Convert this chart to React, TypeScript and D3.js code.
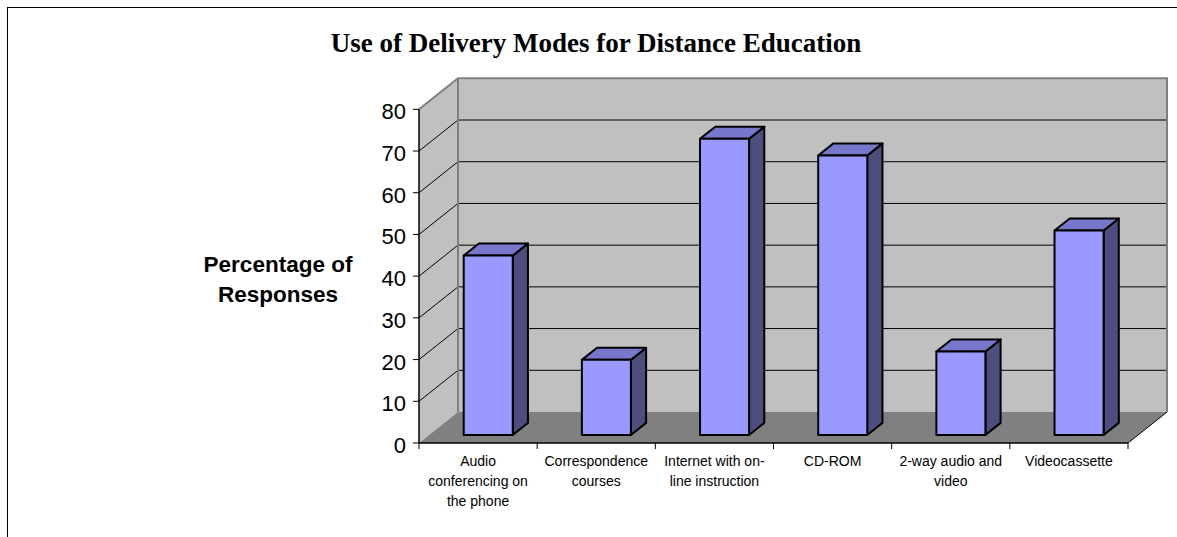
import React from "react";
import * as d3 from "d3";

// Survey results: share of respondents using each delivery mode
const categories = [
  "Audio conferencing on the phone",
  "Correspondence courses",
  "Internet with on-line instruction",
  "CD-ROM",
  "2-way audio and video",
  "Videocassette",
];
const categoryLines = [
  ["Audio", "conferencing on", "the phone"],
  ["Correspondence", "courses"],
  ["Internet with on-", "line instruction"],
  ["CD-ROM"],
  ["2-way audio and", "video"],
  ["Videocassette"],
];
const percentages = [43, 18, 71, 67, 20, 49];
const yTicks = [0, 10, 20, 30, 40, 50, 60, 70, 80];

const W = 1177;
const H = 537;

// front plane of the plot box
const X0 = 419;
const X1 = 1128;
const Y0 = 443;
const Y80 = 109.3;
// oblique depth offset of the back wall
const DEPTH_DX = 39;
const DEPTH_DY = -31;

const BAR_FRONT = 0.26;
const BAR_BACK = 0.65;

const FONT = "Arial, 'Liberation Sans', Helvetica, sans-serif";

export default function App() {
  const y = d3.scaleLinear().domain([0, 80]).range([Y0, Y80]);
  const x = d3
    .scaleBand<string>()
    .domain(categories)
    .range([X0, X1])
    .paddingInner(0.585)
    .paddingOuter(0.2925);
  const step = x.step();
  const off = (d: number): [number, number] => [DEPTH_DX * d, DEPTH_DY * d];
  const pt = (px: number, py: number, d: number) => {
    const [dx, dy] = off(d);
    return `${px + dx},${py + dy}`;
  };

  const backLeft = X0 + DEPTH_DX;
  const backRight = X1 + DEPTH_DX;
  const backTop = y(80) + DEPTH_DY;
  const backBottom = y(0) + DEPTH_DY;

  const gridVals = yTicks.filter((v) => v > 0 && v < 80);

  return (
    <svg
      width={W}
      height={H}
      style={{ position: "absolute", left: 0, top: 0, background: "#fff" }}
    >
      {/* chart frame */}
      <rect x={7.5} y={7.5} width={1300} height={700} fill="#fff" stroke="#000" strokeWidth={1} />

      <text
        x={596}
        y={52}
        textAnchor="middle"
        fontFamily="'Liberation Serif', 'Times New Roman', serif"
        fontWeight="bold"
        fontSize={27}
        fill="#000"
      >
        Use of Delivery Modes for Distance Education
      </text>

      {/* side wall */}
      <polygon
        points={[pt(X0, y(0), 0), pt(X0, y(80), 0), pt(X0, y(80), 1), pt(X0, y(0), 1)].join(" ")}
        fill="#c0c0c0"
      />
      {/* back wall */}
      <rect x={backLeft} y={backTop} width={backRight - backLeft} height={backBottom - backTop} fill="#c0c0c0" />
      {/* floor */}
      <polygon
        points={[pt(X0, y(0), 0), pt(X1, y(0), 0), pt(X1, y(0), 1), pt(X0, y(0), 1)].join(" ")}
        fill="#808080"
      />

      {/* gridlines */}
      {gridVals.map((v) => (
        <g key={v}>
          <line x1={X0} y1={y(v)} x2={backLeft} y2={y(v) + DEPTH_DY} stroke="#000" strokeWidth={1} />
          <line x1={backLeft} y1={y(v) + DEPTH_DY} x2={backRight} y2={y(v) + DEPTH_DY} stroke="#000" strokeWidth={1} />
        </g>
      ))}

      {/* wall borders */}
      <polyline
        points={`${X0},${y(80)} ${backLeft},${backTop} ${backRight},${backTop} ${backRight},${backBottom}`}
        fill="none"
        stroke="#808080"
        strokeWidth={2}
      />
      <line x1={backLeft} y1={backTop} x2={backLeft} y2={backBottom} stroke="#808080" strokeWidth={2} />
      <line x1={X1} y1={y(0)} x2={backRight} y2={backBottom} stroke="#000" strokeWidth={1} />

      {/* bars */}
      {categories.map((c, i) => {
        const bx0 = x(c)!;
        const bx1 = bx0 + x.bandwidth();
        const v = percentages[i];
        const yt = y(v);
        const yb = y(0);
        const front = [pt(bx0, yb, BAR_FRONT), pt(bx0, yt, BAR_FRONT), pt(bx1, yt, BAR_FRONT), pt(bx1, yb, BAR_FRONT)];
        const top = [pt(bx0, yt, BAR_FRONT), pt(bx0, yt, BAR_BACK), pt(bx1, yt, BAR_BACK), pt(bx1, yt, BAR_FRONT)];
        const side = [pt(bx1, yt, BAR_FRONT), pt(bx1, yt, BAR_BACK), pt(bx1, yb, BAR_BACK), pt(bx1, yb, BAR_FRONT)];
        return (
          <g key={c} stroke="#000" strokeWidth={2} strokeLinejoin="round">
            <polygon points={side.join(" ")} fill="#4d4d80" />
            <polygon points={top.join(" ")} fill="#7777cc" />
            <polygon points={front.join(" ")} fill="#9999ff" />
          </g>
        );
      })}

      {/* y axis */}
      <line x1={X0} y1={y(0)} x2={X0} y2={y(80)} stroke="#000" strokeWidth={1.5} />
      {yTicks.map((v) => (
        <g key={v}>
          <line x1={X0 - 6} y1={y(v)} x2={X0} y2={y(v)} stroke="#000" strokeWidth={1} />
          <text x={406} y={y(v) + 10} textAnchor="end" fontFamily={FONT} fontSize={22} fill="#000">
            {v}
          </text>
        </g>
      ))}

      {/* x axis */}
      <line x1={X0} y1={y(0)} x2={X1} y2={y(0)} stroke="#000" strokeWidth={1.5} />
      {d3.range(categories.length + 1).map((i) => (
        <line key={i} x1={X0 + step * i} y1={y(0)} x2={X0 + step * i} y2={y(0) + 6} stroke="#000" strokeWidth={1} />
      ))}
      {categories.map((c, i) => (
        <text
          key={c}
          x={x(c)! + x.bandwidth() / 2}
          y={466}
          textAnchor="middle"
          fontFamily={FONT}
          fontSize={14}
          fill="#000"
        >
          {categoryLines[i].map((ln, k) => (
            <tspan key={k} x={x(c)! + x.bandwidth() / 2} y={466 + k * 20}>
              {ln}
            </tspan>
          ))}
        </text>
      ))}

      {/* axis title */}
      <text textAnchor="middle" fontFamily={FONT} fontWeight="bold" fontSize={22.5} fill="#000">
        <tspan x={278} y={272}>Percentage of</tspan>
        <tspan x={278} y={302}>Responses</tspan>
      </text>
    </svg>
  );
}
